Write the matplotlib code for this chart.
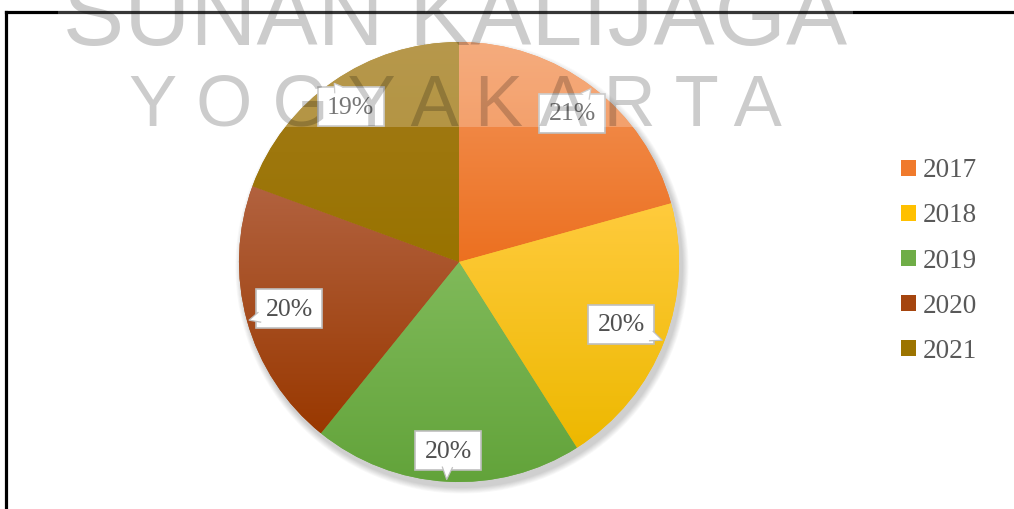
import matplotlib
matplotlib.use("Agg")
import matplotlib.pyplot as plt
import numpy as np
from matplotlib.colors import LinearSegmentedColormap
from matplotlib.patches import Rectangle, Polygon

# data (share of each year)
years = ["2017", "2018", "2019", "2020", "2021"]
shares = [20.7, 20.3, 19.8, 19.8, 19.4]
pct_labels = ["21%", "20%", "20%", "20%", "19%"]

# colours: base, top of gradient, bottom of gradient
base_colors = ["#F07A2C", "#FFC000", "#6FAD47", "#A5450F", "#9C7400"]
top_colors = ["#F3955A", "#FFCB3D", "#80BA5A", "#B2623F", "#A37B1A"]
bottom_colors = ["#EC7020", "#EDB800", "#62A33A", "#993800", "#997300"]

W, H = 1014, 509
fig = plt.figure(figsize=(W / 100, H / 100), dpi=100)
ax = fig.add_axes([0, 0, 1, 1])
ax.set_axis_off()

cx, cy, R = 459, 247, 220

# soft shadow under the pie
for i in range(8):
    sh = plt.Circle((cx + 3, cy - 5), R + 1 + i * 0.8, color="black",
                    alpha=0.025, lw=0, zorder=0.5)
    ax.add_patch(sh)

wedges, _ = ax.pie(shares, colors=base_colors, startangle=90, counterclock=False,
                   center=(cx, cy), radius=R, wedgeprops=dict(linewidth=0),
                   frame=True)
for w in wedges:
    w.set_zorder(1)

# vertical gradient inside each slice
for w, c_top, c_bot in zip(wedges, top_colors, bottom_colors):
    v = w.get_path().vertices
    x0, x1 = v[:, 0].min(), v[:, 0].max()
    y0, y1 = v[:, 1].min(), v[:, 1].max()
    cmap = LinearSegmentedColormap.from_list("g", [c_top, c_bot])
    grad = np.linspace(0, 1, 256).reshape(-1, 1)
    im = ax.imshow(grad, cmap=cmap, extent=(x0, x1, y0, y1), origin="upper",
                   aspect="auto", zorder=1.5, interpolation="bilinear")
    im.set_clip_path(w)

# data labels with callout boxes
label_r = [0.85, 0.79, 0.86, 0.80, 0.86]
bw, bh = 66, 39
tot = sum(shares)
start = 90.0
for i, (s, lab) in enumerate(zip(shares, pct_labels)):
    mid = np.deg2rad(start - s / tot * 360 / 2)
    start -= s / tot * 360
    lx = cx + label_r[i] * R * np.cos(mid)
    ly = cy + label_r[i] * R * np.sin(mid)
    tx = cx + 0.99 * R * np.cos(mid)
    ty = cy + 0.99 * R * np.sin(mid)
    dx, dy = tx - lx, ty - ly
    d = np.hypot(dx, dy)
    ux, uy = dx / d, dy / d
    t = min(bw / 2 / max(abs(ux), 1e-6), bh / 2 / max(abs(uy), 1e-6))
    bx, by = lx + ux * (t - 3), ly + uy * (t - 3)
    px, py = -uy * 5, ux * 5
    tri = Polygon([(bx + px, by + py), (tx, ty), (bx - px, by - py)],
                  closed=True, facecolor="white", edgecolor="none", zorder=6)
    ax.add_patch(tri)
    ax.plot([bx + px, tx, bx - px], [by + py, ty, by - py], color="#BFBFBF",
            lw=0.9, zorder=6)
    ax.add_patch(Rectangle((lx - bw / 2, ly - bh / 2), bw, bh, facecolor="white",
                           edgecolor="#BFBFBF", lw=1.2, zorder=5))
    ax.text(lx, ly - 1, lab, ha="center", va="center", fontsize=18.5,
            family="Liberation Serif", color="#505050", zorder=7)

# legend
leg = ax.legend(wedges, years, loc="center left",
                bbox_to_anchor=(901, H - 261), bbox_transform=ax.transData,
                frameon=False, prop={"family": "Liberation Serif", "size": 19.5},
                handlelength=0.55, handleheight=0.55, handletextpad=0.25,
                labelspacing=0.74, borderpad=0, borderaxespad=0)
for t in leg.get_texts():
    t.set_color("#595959")

# chart frame (only top and left edges fall inside the picture)
ax.plot([6, W + 5], [H - 12, H - 12], color="black", lw=2.3, zorder=3,
        solid_capstyle="projecting")
ax.plot([6, 6], [H - 12, -5], color="black", lw=2.3, zorder=3,
        solid_capstyle="projecting")

# watermark
ax.add_patch(Rectangle((58, H - 127), 795, 140, facecolor="white", alpha=0.22,
                       lw=0, zorder=8))
ax.text(455, H - 45, "SUNAN KALIJAGA", ha="center", va="baseline", fontsize=66,
        family="Liberation Sans", color="black", alpha=0.2, zorder=9)
ax.text(455, H - 125, "Y O G Y A K A R T A", ha="center", va="baseline",
        fontsize=52, family="Liberation Sans", color="black", alpha=0.2,
        zorder=9)

ax.set_xlim(0, W)
ax.set_ylim(0, H)
ax.set_aspect("auto")
fig.savefig("out.png", dpi=100)
